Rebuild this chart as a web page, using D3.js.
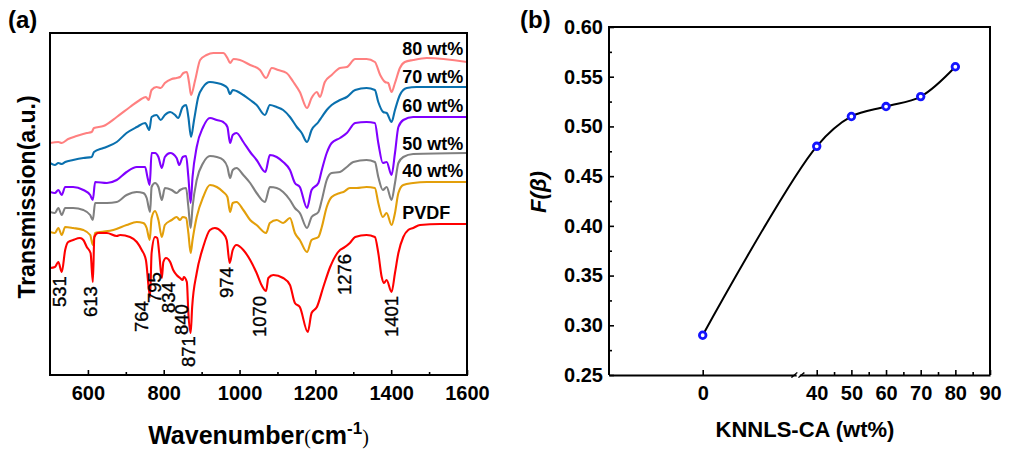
<!DOCTYPE html>
<html>
<head>
<meta charset="utf-8">
<script src="https://cdn.jsdelivr.net/npm/d3@7"></script>
<style>
  html, body { margin: 0; padding: 0; background: #fff; }
  svg { display: block; }
  text { font-family: Arial, "Liberation Sans", sans-serif; fill: #000; }
</style>
</head>
<body>
<svg id="chart" width="1030" height="449"></svg>
<script>
// ---------- (a) FTIR spectra: [wavenumber (cm-1), transmission (a.u., stacked)] ----------
const spec80 = [[500,23.2],[522,23.3],[531,23.2],[548,23.6],[570,23.9],[597,24.2],[610,24.3],[616,24.7],[641,24.9],[676,25.8],[711,26.8],[737,27.5],[753,27.8],[760,27.5],[768,28.5],[781,28.8],[792,28.7],[803,29.2],[821,29.6],[834,29.7],[843,29.8],[852,30.2],[861,30.3],[867,29.2],[872,28.0],[883,29.5],[896,31.5],[913,32.0],[931,32.2],[957,32.2],[968,31.7],[975,31.2],[984,31.6],[1001,31.5],[1028,31.0],[1054,30.5],[1070,29.7],[1085,30.7],[1102,30.5],[1124,30.2],[1142,29.3],[1159,28.3],[1178,26.7],[1190,27.7],[1204,28.3],[1212,27.8],[1225,29.3],[1243,30.0],[1265,30.7],[1283,30.8],[1305,31.6],[1335,31.6],[1357,31.3],[1371,30.0],[1384,29.3],[1392,29.2],[1401,28.3],[1410,29.2],[1423,30.7],[1436,31.3],[1458,31.5],[1494,31.7],[1600,31.3]];

const spec70 = [[500,21.2],[513,21.0],[522,21.2],[531,21.1],[540,21.3],[561,21.5],[588,21.7],[610,21.8],[616,22.3],[641,22.7],[676,23.3],[702,24.2],[729,24.8],[751,25.2],[762,24.5],[768,25.8],[781,26.0],[792,25.5],[803,26.0],[817,26.3],[830,26.0],[838,25.7],[850,26.8],[859,27.0],[865,25.8],[872,23.8],[880,25.5],[891,27.8],[904,28.8],[922,29.3],[940,29.2],[957,29.0],[968,28.7],[975,28.1],[982,28.5],[992,28.4],[1010,28.0],[1028,27.5],[1045,27.0],[1067,26.0],[1080,27.0],[1098,26.8],[1115,26.5],[1133,25.8],[1151,24.8],[1164,24.2],[1178,23.3],[1190,24.5],[1208,25.3],[1217,25.8],[1230,26.5],[1243,27.0],[1265,27.5],[1283,27.8],[1305,28.5],[1335,28.7],[1357,28.5],[1366,27.3],[1379,26.3],[1388,26.2],[1401,25.3],[1410,26.5],[1423,28.0],[1441,28.7],[1467,28.8],[1600,28.8]];

const spec60 = [[500,18.3],[513,18.2],[522,18.5],[531,18.0],[540,18.8],[561,18.8],[588,18.5],[606,18.0],[613,17.5],[619,19.3],[650,19.2],[676,19.5],[702,20.3],[729,20.8],[751,20.8],[757,19.8],[763,19.0],[768,22.2],[777,22.2],[786,21.8],[795,20.7],[803,21.8],[817,22.2],[834,21.7],[841,21.0],[850,21.8],[859,21.9],[865,19.8],[871,17.2],[876,19.8],[887,22.8],[904,24.8],[922,25.7],[940,25.5],[957,25.3],[968,24.8],[975,23.2],[982,24.0],[992,24.2],[1010,23.3],[1028,22.3],[1045,21.5],[1068,20.3],[1080,22.0],[1098,21.8],[1115,21.3],[1133,20.5],[1146,19.2],[1159,18.8],[1178,16.7],[1190,18.5],[1208,19.2],[1217,20.5],[1230,22.2],[1243,23.2],[1265,23.7],[1283,24.2],[1305,25.2],[1335,25.3],[1357,25.2],[1366,23.2],[1378,21.2],[1388,21.3],[1401,20.0],[1410,22.2],[1419,24.8],[1432,25.5],[1458,25.8],[1600,25.8]];

const spec50 = [[500,16.3],[513,16.2],[522,16.7],[531,16.0],[540,16.7],[561,16.7],[588,16.5],[606,16.0],[613,15.5],[619,17.2],[650,17.2],[676,17.3],[702,18.0],[729,18.3],[746,18.2],[755,17.7],[764,16.3],[768,18.8],[777,19.2],[786,18.8],[795,17.5],[803,18.7],[821,18.5],[834,18.2],[843,18.5],[859,18.7],[865,16.8],[871,14.7],[876,16.8],[887,19.5],[904,21.2],[922,21.9],[940,21.8],[957,21.5],[968,20.8],[975,19.7],[982,20.5],[992,20.7],[1010,20.0],[1028,19.2],[1045,18.2],[1067,17.3],[1080,18.8],[1098,18.7],[1115,18.3],[1133,17.5],[1146,16.7],[1159,16.2],[1178,14.7],[1190,15.8],[1208,16.3],[1217,17.5],[1230,19.5],[1243,20.2],[1265,20.3],[1283,20.8],[1300,21.3],[1335,21.5],[1357,21.3],[1366,19.8],[1378,18.5],[1388,18.8],[1401,17.5],[1410,19.2],[1419,21.2],[1432,21.8],[1458,22.1],[1600,22.2]];

const spec40 = [[500,14.3],[513,14.2],[522,14.7],[531,14.0],[540,14.8],[561,14.7],[588,14.5],[606,14.0],[613,13.0],[619,14.2],[632,14.3],[667,14.5],[702,15.0],[729,15.3],[746,15.2],[755,14.7],[763,13.5],[768,15.7],[777,16.4],[786,15.5],[795,13.8],[803,15.0],[821,15.5],[834,15.8],[843,15.5],[850,15.8],[859,15.7],[865,14.2],[871,12.2],[876,13.5],[887,15.8],[904,17.8],[922,19.0],[940,18.8],[957,18.3],[968,17.8],[975,16.3],[982,17.2],[992,17.3],[1010,16.5],[1028,15.5],[1045,15.0],[1070,14.2],[1080,15.2],[1098,15.5],[1115,15.2],[1133,15.7],[1146,14.2],[1159,13.5],[1178,12.3],[1190,13.5],[1208,13.8],[1217,14.8],[1230,16.8],[1243,17.8],[1265,18.2],[1274,18.3],[1291,18.7],[1309,18.7],[1335,18.8],[1357,18.7],[1366,17.2],[1378,15.8],[1388,16.2],[1401,15.0],[1410,16.2],[1419,18.2],[1432,19.0],[1458,19.2],[1494,19.3],[1600,19.3]];

const specPVDF = [[500,10.7],[513,10.8],[522,11.3],[531,10.3],[540,12.5],[548,13.3],[561,13.5],[579,13.7],[588,13.5],[597,12.8],[607,12.2],[613,9.3],[617,13.8],[627,14.2],[650,14.2],[676,13.9],[685,14.0],[711,13.8],[729,13.3],[742,12.5],[753,11.5],[764,7.8],[768,12.2],[777,13.8],[783,13.7],[788,12.2],[795,9.7],[799,11.3],[806,11.7],[817,11.3],[825,10.5],[834,10.0],[843,9.7],[850,9.5],[853,9.8],[861,9.3],[865,6.2],[871,4.2],[875,6.8],[887,10.2],[904,12.8],[922,14.5],[935,14.7],[953,14.3],[966,13.5],[974,11.2],[982,12.5],[992,13.0],[1010,12.5],[1028,11.5],[1045,10.2],[1058,9.0],[1070,8.4],[1076,9.7],[1089,10.0],[1115,9.7],[1133,9.0],[1146,7.2],[1159,6.8],[1180,4.3],[1190,6.2],[1204,6.8],[1221,8.8],[1239,10.8],[1265,12.5],[1274,12.7],[1291,13.2],[1305,13.8],[1335,14.0],[1357,13.8],[1366,12.2],[1375,9.8],[1381,9.2],[1388,9.5],[1401,8.3],[1410,10.2],[1419,12.2],[1432,13.8],[1445,14.5],[1458,14.7],[1476,15.0],[1529,15.1],[1600,15.1]];

const seriesNames  = ["80 wt%", "70 wt%", "60 wt%", "50 wt%", "40 wt%", "PVDF"];
const seriesData   = [spec80, spec70, spec60, spec50, spec40, specPVDF];
const seriesColors = ["#ff8080", "#0a70ae", "#8000ff", "#808080", "#e39f0a", "#ff0000"];
// vertical level (a.u.) of each series name label
const seriesLabelLevel = [32.0, 29.2, 26.3, 22.5, 19.8, 15.6];

// assigned PVDF bands: wavenumber and the a.u. level where the label starts
const peakWn    = [531, 613, 764, 795, 834, 840, 871, 974, 1070, 1276, 1401];
const peakLevel = [6.8, 5.8, 4.3, 7.2, 6.2, 4.0, 0.8, 7.7, 3.8, 8.0, 3.8];
// small horizontal nudges (px) so the crowded labels do not collide
const peakNudge = [4, 4, -2, -1, -2, 9, 4, 3, 0, 7, 6];

const wnTicks = [600, 800, 1000, 1200, 1400, 1600];
const wnMinor = [700, 900, 1100, 1300, 1500];

// ---------- (b) beta-phase fraction vs filler loading ----------
const loading = [0, 40, 50, 60, 70, 80];
const fBeta   = [0.29, 0.48, 0.51, 0.52, 0.53, 0.56];
const fTicks  = [0.25, 0.30, 0.35, 0.40, 0.45, 0.50, 0.55, 0.60];
const fMinor  = [0.275, 0.325, 0.375, 0.425, 0.475, 0.525, 0.575];
const loadTicksLow  = [0];
const loadTicksHigh = [40, 50, 60, 70, 80, 90];
const loadMinorHigh = [45, 55, 65, 75, 85];

const svg = d3.select("#chart");
svg.append("rect").attr("width", 1030).attr("height", 449).attr("fill", "#fff");

const FONT = "Arial, 'Liberation Sans', sans-serif";

// ================= Panel (a) =================
const A = { left: 50, right: 467, top: 33, bottom: 375 };
const xa = d3.scaleLinear().domain([500, 1600]).range([A.left, A.right]);
const ya = d3.scaleLinear().domain([0, 34.2]).range([A.bottom, A.top]);

const gA = svg.append("g");

const lineA = d3.line()
  .x(d => xa(d[0]))
  .y(d => ya(d[1]))
  .curve(d3.curveMonotoneX);

gA.append("defs").append("clipPath").attr("id", "clipA")
  .append("rect").attr("x", A.left).attr("y", A.top)
  .attr("width", A.right - A.left).attr("height", A.bottom - A.top);

gA.append("g").attr("clip-path", "url(#clipA)")
  .selectAll("path").data(seriesData).join("path")
  .attr("d", lineA)
  .attr("fill", "none")
  .attr("stroke", (d, i) => seriesColors[i])
  .attr("stroke-width", 2.1)
  .attr("stroke-linejoin", "round");

// series names
gA.selectAll("text.sname").data(seriesNames).join("text")
  .attr("class", "sname")
  .attr("x", xa(1429))
  .attr("y", (d, i) => ya(seriesLabelLevel[i]))
  .attr("font-size", 18)
  .attr("font-weight", "bold")
  .text(d => d);

// band labels, rotated
gA.selectAll("text.peak").data(peakWn).join("text")
  .attr("class", "peak")
  .attr("transform", (d, i) => `translate(${xa(d) + peakNudge[i]},${ya(peakLevel[i])}) rotate(-90)`)
  .attr("font-size", 18.5)
  .attr("stroke", "#000").attr("stroke-width", 0.35)
  .text(d => d);

// x axis (ticks pointing inward)
const axA = gA.append("g").attr("transform", `translate(0,${A.bottom})`)
  .call(d3.axisBottom(xa).tickValues(wnTicks).tickFormat(d3.format("d"))
    .tickSizeInner(-5).tickSizeOuter(0).tickPadding(11));
axA.select(".domain").remove();
axA.selectAll("line").attr("stroke", "#000").attr("stroke-width", 1.6);
axA.selectAll("text").attr("font-size", 20).attr("font-weight", "bold").attr("font-family", FONT);

const axAm = gA.append("g").attr("transform", `translate(0,${A.bottom})`)
  .call(d3.axisBottom(xa).tickValues(wnMinor).tickSizeInner(-3).tickSizeOuter(0).tickFormat(""));
axAm.select(".domain").remove();
axAm.selectAll("line").attr("stroke", "#000").attr("stroke-width", 1.6);

// frame
gA.append("rect")
  .attr("x", A.left).attr("y", A.top)
  .attr("width", A.right - A.left).attr("height", A.bottom - A.top)
  .attr("fill", "none").attr("stroke", "#000").attr("stroke-width", 2);

// axis titles
const xtA = gA.append("text")
  .attr("x", (A.left + A.right) / 2).attr("y", 444)
  .attr("text-anchor", "middle")
  .attr("font-size", 25).attr("font-weight", "bold");
xtA.append("tspan").text("Wavenumber");
xtA.append("tspan").attr("font-family", "'Liberation Serif', 'Times New Roman', serif")
  .attr("font-weight", "normal").attr("font-size", 20).text("(");
xtA.append("tspan").text("cm");
xtA.append("tspan").attr("font-size", 17).attr("dy", -10).text("-1");
xtA.append("tspan").attr("font-family", "'Liberation Serif', 'Times New Roman', serif")
  .attr("font-weight", "normal").attr("font-size", 20).attr("dy", 10).text(")");

gA.append("text")
  .attr("transform", `translate(35,197) rotate(-90)`)
  .attr("text-anchor", "middle")
  .attr("font-size", 23).attr("font-weight", "bold")
  .text("Transmission(a.u.)");

gA.append("text").attr("x", 8).attr("y", 28)
  .attr("font-size", 24).attr("font-weight", "bold").text("(a)");

// ================= Panel (b) =================
const B = { left: 609, right: 990, top: 27, bottom: 375 };
const yb = d3.scaleLinear().domain([0.25, 0.60]).range([B.bottom, B.top]);
// broken x axis: two linear segments
const xbLow  = d3.scaleLinear().domain([-10, 10]).range([B.left, 796.4]);
const xbHigh = d3.scaleLinear().domain([35, 90]).range([799.4, B.right]);
const xb = v => (v < 25 ? xbLow(v) : xbHigh(v));

const gB = svg.append("g");

// frame: left, top, right (bottom comes from the broken axis)
gB.append("path")
  .attr("d", `M${B.left},${B.bottom}V${B.top}H${B.right}V${B.bottom}`)
  .attr("fill", "none").attr("stroke", "#000").attr("stroke-width", 2);

// y axis
const ayB = gB.append("g").attr("transform", `translate(${B.left},0)`)
  .call(d3.axisLeft(yb).tickValues(fTicks).tickSizeInner(-5).tickSizeOuter(0).tickPadding(6)
    .tickFormat(d3.format(".2f")));
ayB.select(".domain").remove();
ayB.selectAll("line").attr("stroke", "#000").attr("stroke-width", 1.6);
ayB.selectAll("text").attr("font-size", 20).attr("font-weight", "bold").attr("font-family", FONT);

const ayBm = gB.append("g").attr("transform", `translate(${B.left},0)`)
  .call(d3.axisLeft(yb).tickValues(fMinor).tickSizeInner(-3).tickSizeOuter(0).tickFormat(""));
ayBm.select(".domain").remove();
ayBm.selectAll("line").attr("stroke", "#000").attr("stroke-width", 1.6);

// x axis segments
function styleX(sel) {
  sel.select(".domain").attr("stroke", "#000").attr("stroke-width", 2);
  sel.selectAll("line").attr("stroke", "#000").attr("stroke-width", 1.6);
  sel.selectAll("text").attr("font-size", 20).attr("font-weight", "bold").attr("font-family", FONT);
}
const axLow = gB.append("g").attr("transform", `translate(0,${B.bottom})`)
  .call(d3.axisBottom(xbLow).tickValues(loadTicksLow).tickSizeInner(-5).tickSizeOuter(0).tickPadding(11));
styleX(axLow);
const axHigh = gB.append("g").attr("transform", `translate(0,${B.bottom})`)
  .call(d3.axisBottom(xbHigh).tickValues(loadTicksHigh).tickSizeInner(-5).tickSizeOuter(0).tickPadding(11));
styleX(axHigh);
const axHighMinor = gB.append("g").attr("transform", `translate(0,${B.bottom})`)
  .call(d3.axisBottom(xbHigh).tickValues(loadMinorHigh).tickSizeInner(-3).tickSizeOuter(0).tickFormat(""));
axHighMinor.select(".domain").remove();
axHighMinor.selectAll("line").attr("stroke", "#000").attr("stroke-width", 1.6);

// break marks
const gapMid = (xbLow.range()[1] + xbHigh.range()[0]) / 2;
gB.selectAll("line.brk").data([-3.5, 3.5]).join("line")
  .attr("class", "brk")
  .attr("x1", d => gapMid + d - 3).attr("y1", B.bottom + 2.5)
  .attr("x2", d => gapMid + d + 3).attr("y2", B.bottom - 2.5)
  .attr("stroke", "#000").attr("stroke-width", 1.6);
gB.append("rect").attr("x", gapMid - 1.2).attr("y", B.bottom - 1.5)
  .attr("width", 2.4).attr("height", 3).attr("fill", "#fff");

// fitted curve and points
const ptsB = loading.map((v, i) => [xb(v), yb(fBeta[i])]);
gB.append("path")
  .attr("d", d3.line().curve(d3.curveCatmullRom.alpha(0.5))(ptsB))
  .attr("fill", "none").attr("stroke", "#000").attr("stroke-width", 2);
gB.selectAll("circle").data(loading).join("circle")
  .attr("cx", d => xb(d))
  .attr("cy", (d, i) => yb(fBeta[i]))
  .attr("r", 3.3)
  .attr("fill", "#fff")
  .attr("stroke", "#1414ff")
  .attr("stroke-width", 2.8);

// titles
gB.append("text")
  .attr("x", 805).attr("y", 437)
  .attr("text-anchor", "middle")
  .attr("font-size", 22).attr("font-weight", "bold")
  .text("KNNLS-CA (wt%)");

gB.append("text")
  .attr("transform", `translate(546,192) rotate(-90)`)
  .attr("text-anchor", "middle")
  .attr("font-size", 22).attr("font-weight", "bold").attr("font-style", "italic")
  .text("F(β)");

gB.append("text").attr("x", 520).attr("y", 28)
  .attr("font-size", 24).attr("font-weight", "bold").text("(b)");
</script>
</body>
</html>
